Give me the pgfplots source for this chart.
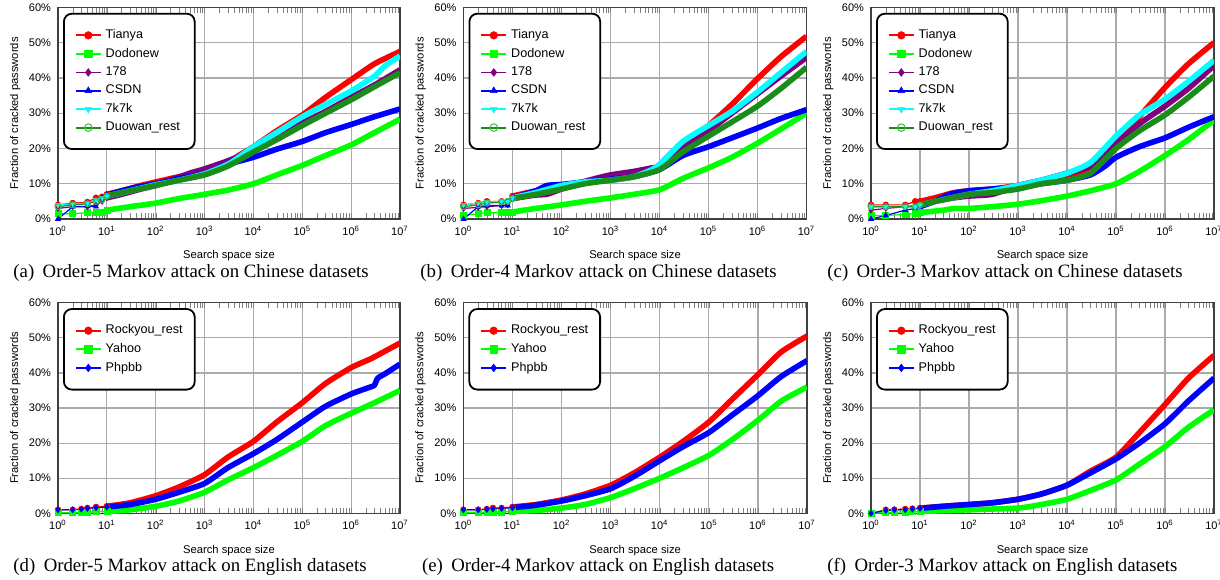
\documentclass[border=0pt]{standalone}
\usepackage{fontspec}
\setmainfont{Liberation Serif}
\setsansfont{Liberation Sans}
\usepackage{pgfplots}
\pgfplotsset{compat=1.18}
\definecolor{cPur}{RGB}{128,0,128}
\definecolor{cDuo}{RGB}{25,140,25}
\definecolor{cDuoM}{RGB}{60,190,60}
\definecolor{cCy}{RGB}{0,255,255}
\definecolor{cRd}{RGB}{255,0,0}
\definecolor{cGr}{RGB}{0,255,0}
\definecolor{cBl}{RGB}{0,0,255}
\pgfplotsset{
  legend image code/.code={\draw[mark repeat=2,mark phase=2,#1,line width=0.9pt,mark size=1.9pt] plot coordinates {(0pt,0pt) (6.25pt,0pt) (12.5pt,0pt)};},
}
\pgfplotsset{
 every axis/.append style={
  scale only axis, xmin=1, xmax=1e7, ymin=0, ymax=60,
  xtick={1,10,100,1000,10000,100000,1000000,10000000},
  xticklabels={10\textsuperscript{0},10\textsuperscript{1},10\textsuperscript{2},10\textsuperscript{3},10\textsuperscript{4},10\textsuperscript{5},10\textsuperscript{6},10\textsuperscript{7}},
  ytick={0,10,20,30,40,50,60},
  yticklabels={0\%,10\%,20\%,30\%,40\%,50\%,60\%},
  grid=major, major grid style={color=black!33, line width=0.6pt},
  axis line style={color=black!75, line width=0.6pt},
  major tick length=0pt,
  tick label style={font=\sffamily\fontsize{5.5}{6}\selectfont},
  label style={font=\sffamily\fontsize{5.6}{6.5}\selectfont},
  xlabel={Search space size}, ylabel={Fraction of cracked passwords},
  xlabel style={at={(axis description cs:0.5,0)}, anchor=center, yshift=-18.5pt},
  ylabel style={at={(axis description cs:-0.125,0.5)}, anchor=center},
  legend style={at={(axis description cs:0,1)}, anchor=north west, xshift=2.5pt, yshift=-2.7pt,
    draw=black, line width=0.9pt, rounded corners=4pt, fill=white,
    inner xsep=5.5pt, inner ysep=5.8pt, row sep=-0.75pt,
    font=\sffamily\fontsize{6.3}{7}\selectfont},
  legend cell align=left,
 },
 plotearly/.style={line width=0.6pt, mark size=1.5pt},
 plotlate/.style={line width=2.8pt, mark=none, forget plot, line join=round, smooth, tension=0.35},
 serTi/.style={color=cRd, mark=*, mark options={solid,line width=0.3pt}},
 serDo/.style={color=cGr, mark=square*, mark options={solid,line width=0.3pt}},
 serPu/.style={color=cPur, mark=diamond*, mark options={solid,line width=0.3pt}},
 serCS/.style={color=cBl, mark=triangle*, mark options={solid,line width=0.3pt}},
 ser7k/.style={color=cCy, mark=triangle*, mark options={solid,line width=0.3pt,rotate=180}},
 serDu/.style={color=cDuo, mark=o, mark options={solid,line width=0.5pt,draw=cDuoM}},
 serPh/.style={color=cBl, mark=diamond*, mark options={solid,line width=0.3pt}},
}
\newcommand{\LegE}[1]{\makebox[37pt][l]{#1}}
\begin{document}
\begin{tikzpicture}
\path[use as bounding box] (0,0) rectangle (610pt,289.5pt);
% ---------------- (a)
\begin{axis}[xmode=log, at={(29pt,180pt)}, anchor=south west, width=171pt, height=105.8pt]
\addplot[serTi,plotearly] coordinates {(1,4) (2,4.5) (4,4.8) (6,6) (8,6.3) (10,7)}; \addlegendentry{\LegE{Tianya}}
\addplot[serTi,plotlate] coordinates {(10,7) (20,8) (50,9.5) (100,10.5) (300,12) (1000,13.5) (3000,16) (5000,18) (1e4,20.5) (3e4,25) (1e5,29.5) (3e5,34.5) (1e6,39.5) (3e6,44) (1e7,47.5)};
\addplot[serDo,plotearly] coordinates {(1,1.5) (2,1.5) (4,1.8) (6,2) (8,2) (10,2.5)}; \addlegendentry{\LegE{Dodonew}}
\addplot[serDo,plotlate] coordinates {(10,2.5) (30,3.5) (100,4.5) (300,5.8) (1000,7) (3000,8.2) (1e4,10) (3e4,12.5) (1e5,15.2) (3e5,18) (1e6,21) (3e6,24.5) (1e7,28.3)};
\addplot[serPu,plotearly] coordinates {(1,3) (2,3.5) (4,3.5) (6,4) (8,5) (10,6)}; \addlegendentry{\LegE{178}}
\addplot[serPu,plotlate] coordinates {(10,6) (20,7) (50,8.5) (100,9.5) (200,11) (500,13) (1000,14.2) (3000,16.5) (1e4,19.5) (3e4,23) (1e5,27.2) (3e5,30.5) (1e6,34.5) (3e6,38) (1e7,42.3)};
\addplot[serCS,plotearly] coordinates {(1,0) (2,3.5) (4,3.6) (6,3.5) (8,6) (10,6.8)}; \addlegendentry{\LegE{CSDN}}
\addplot[serCS,plotlate] coordinates {(10,6.8) (20,8) (40,9) (100,10) (300,11.5) (1000,12.8) (3000,15.5) (1e4,17.5) (3e4,19.8) (1e5,22) (3e5,24.5) (1e6,26.8) (3e6,29) (1e7,31.2)};
\addplot[ser7k,plotearly] coordinates {(1,4) (2,4.3) (4,4.5) (6,5.5) (8,6) (10,6.5)}; \addlegendentry{\LegE{7k7k}}
\addplot[ser7k,plotlate] coordinates {(10,6.5) (30,8) (100,9.7) (300,11) (1000,12.8) (3000,15.5) (5000,17.5) (1e4,20.5) (3e4,24.5) (1e5,29) (3e5,32.5) (1e6,36.3) (3e6,40.5) (5e6,43.5) (1e7,46.2)};
\addplot[serDu,plotearly] coordinates {(1,3.5) (2,4) (4,4.3) (6,5) (8,5.5) (10,6.5)}; \addlegendentry{\LegE{Duowan\_rest}}
\addplot[serDu,plotlate] coordinates {(10,6.5) (30,8) (100,9.5) (300,11) (1000,12.5) (3000,15) (1e4,19) (3e4,22.5) (1e5,26.5) (3e5,30) (1e6,33.8) (3e6,37.5) (1e7,41.5)};
\end{axis}
% ---------------- (b)
\begin{axis}[xmode=log, at={(231.75pt,180pt)}, anchor=south west, width=171.5pt, height=105.8pt]
\addplot[serTi,plotearly] coordinates {(1,4) (2,4.5) (3,5) (6,5) (8,5) (10,6.5)}; \addlegendentry{\LegE{Tianya}}
\addplot[serTi,plotlate] coordinates {(10,6.5) (30,8) (100,9.5) (300,10.5) (1000,11) (3000,12) (1e4,14.5) (3e4,21) (1e5,26.5) (3e5,32.5) (1e6,39.8) (3e6,46) (1e7,51.8)};
\addplot[serDo,plotearly] coordinates {(1,1) (2,1.5) (3,1.8) (6,1.8) (8,2) (10,2)}; \addlegendentry{\LegE{Dodonew}}
\addplot[serDo,plotlate] coordinates {(10,2) (30,3) (100,4) (300,5) (1000,6) (3000,7) (1e4,8.3) (3e4,11.5) (1e5,14.5) (3e5,17.5) (1e6,21.5) (3e6,25.5) (1e7,30)};
\addplot[serPu,plotearly] coordinates {(1,3) (2,3.3) (3,3.5) (6,3.8) (8,4) (10,5.8)}; \addlegendentry{\LegE{178}}
\addplot[serPu,plotlate] coordinates {(10,5.8) (30,6.8) (50,7) (100,8.5) (200,10) (500,11.5) (1000,12.5) (3000,13.5) (7000,14.5) (1e4,15) (3e4,20) (1e5,25) (3e5,30) (1e6,35.5) (3e6,40.5) (1e7,45.8)};
\addplot[serCS,plotearly] coordinates {(1,0) (2,3.5) (3,3.8) (6,3.8) (8,3.8) (10,6)}; \addlegendentry{\LegE{CSDN}}
\addplot[serCS,plotlate] coordinates {(10,6) (30,8) (50,9.5) (100,9.8) (300,10.5) (1000,11.3) (3000,12) (1e4,14) (3e4,18) (1e5,20.5) (3e5,23) (1e6,25.8) (3e6,28.5) (1e7,31)};
\addplot[ser7k,plotearly] coordinates {(1,4) (2,4.5) (3,4.8) (6,5) (8,5) (10,6)}; \addlegendentry{\LegE{7k7k}}
\addplot[ser7k,plotlate] coordinates {(10,6) (30,7.5) (100,9.5) (300,10.5) (1000,11) (3000,12) (7000,14) (1e4,15.5) (3e4,22) (1e5,26.5) (3e5,30.5) (1e6,36) (3e6,41.5) (1e7,47.5)};
\addplot[serDu,plotearly] coordinates {(1,3.5) (2,4) (3,4.5) (6,4.8) (8,5) (10,5.8)}; \addlegendentry{\LegE{Duowan\_rest}}
\addplot[serDu,plotlate] coordinates {(10,5.8) (30,7) (100,8.5) (300,10) (1000,11) (3000,12) (1e4,14) (3e4,19) (1e5,23.5) (3e5,27.5) (1e6,32) (3e6,37) (1e7,43)};
\end{axis}
% ---------------- (c)
\begin{axis}[xmode=log, at={(435.5pt,180pt)}, anchor=south west, width=171.5pt, height=105.8pt]
\addplot[serTi,plotearly] coordinates {(1,4) (2,4) (5,4) (8,5) (10,5)}; \addlegendentry{\LegE{Tianya}}
\addplot[serTi,plotlate] coordinates {(10,5) (20,6) (50,7.5) (100,8) (300,8.5) (1000,9.5) (3000,10.5) (1e4,11.5) (3e4,13.5) (6e4,17) (1e5,21) (3e5,29) (1e6,37.3) (3e6,44) (1e7,50)};
\addplot[serDo,plotearly] coordinates {(1,1) (2,1) (5,1.3) (8,1.5) (10,1.8)}; \addlegendentry{\LegE{Dodonew}}
\addplot[serDo,plotlate] coordinates {(10,1.8) (30,2.5) (50,3) (100,3) (300,3.5) (1000,4.2) (3000,5.2) (1e4,6.5) (3e4,8) (1e5,10) (3e5,13.5) (1e6,18) (3e6,22.5) (1e7,28)};
\addplot[serPu,plotearly] coordinates {(1,2.5) (2,3) (5,3.5) (8,3.8) (10,4)}; \addlegendentry{\LegE{178}}
\addplot[serPu,plotlate] coordinates {(10,4) (20,5) (50,6) (100,6.5) (300,7) (1000,9.5) (3000,11) (1e4,13) (3e4,15) (1e5,21.5) (3e5,27) (1e6,32) (3e6,37) (1e7,43.5)};
\addplot[serCS,plotearly] coordinates {(1,0) (2,1) (5,2.5) (8,3) (10,3.5)}; \addlegendentry{\LegE{CSDN}}
\addplot[serCS,plotlate] coordinates {(10,3.5) (20,5) (40,7) (100,8) (300,8.5) (1000,9) (3000,10) (1e4,11) (3e4,12.5) (6e4,15) (1e5,17.5) (3e5,20.5) (1e6,23) (3e6,26) (1e7,29)};
\addplot[ser7k,plotearly] coordinates {(1,3.5) (2,3.5) (5,3.5) (8,3.5) (10,4)}; \addlegendentry{\LegE{7k7k}}
\addplot[ser7k,plotlate] coordinates {(10,4) (30,5.5) (100,7) (300,8) (1000,9.5) (3000,11) (1e4,13) (3e4,16) (1e5,23.5) (3e5,29.5) (1e6,34) (3e6,39) (1e7,45)};
\addplot[serDu,plotearly] coordinates {(1,3.5) (2,3.5) (5,3.5) (8,3.5) (10,4)}; \addlegendentry{\LegE{Duowan\_rest}}
\addplot[serDu,plotlate] coordinates {(10,4) (30,5.5) (100,7) (300,7.5) (1000,8.5) (3000,10) (1e4,11) (3e4,13) (1e5,20) (3e5,25) (1e6,29.5) (3e6,34.5) (1e7,40.5)};
\end{axis}
% ---------------- (d)
\begin{axis}[xmode=log, at={(29pt,32.85pt)}, anchor=south west, width=171pt, height=105.3pt]
\addplot[serTi,plotearly] coordinates {(1,1) (2,1) (3,1.2) (4,1.5) (6,1.8) (10,2)}; \addlegendentry{\LegE{Rockyou\_rest}}
\addplot[serTi,plotlate] coordinates {(10,2) (30,3) (100,5) (300,7.5) (1000,11) (3000,16) (1e4,20.5) (3e4,26) (1e5,31.5) (3e5,37) (1e6,41.5) (2.5e6,44) (4e6,45.5) (1e7,48.5)};
\addplot[serDo,plotearly] coordinates {(1,0.2) (2,0.2) (3,0.3) (4,0.3) (6,0.5) (10,0.5)}; \addlegendentry{\LegE{Yahoo}}
\addplot[serDo,plotlate] coordinates {(10,0.5) (30,1) (100,2) (300,3.5) (1000,6) (3000,9.5) (1e4,13) (3e4,16.5) (1e5,20.5) (3e5,25) (1e6,28.5) (3e6,31.5) (1e7,35)};
\addplot[serPh,plotearly] coordinates {(1,1) (2,1) (3,1.2) (4,1.4) (6,1.6) (10,1.8)}; \addlegendentry{\LegE{Phpbb}}
\addplot[serPh,plotlate] coordinates {(10,1.8) (30,2.5) (100,4) (300,6) (1000,8.5) (3000,13) (1e4,17) (3e4,21) (1e5,26) (3e5,30.5) (1e6,34) (2.5e6,36) (3e6,36.5) (3.5e6,38.5) (5e6,39.8) (1e7,42.5)};
\end{axis}
% ---------------- (e)
\begin{axis}[xmode=log, at={(231.7pt,32.85pt)}, anchor=south west, width=171.8pt, height=105.3pt]
\addplot[serTi,plotearly] coordinates {(1,1) (2,1) (3,1.2) (4,1.5) (6,1.5) (10,1.8)}; \addlegendentry{\LegE{Rockyou\_rest}}
\addplot[serTi,plotlate] coordinates {(10,1.8) (30,2.5) (100,3.8) (300,5.5) (1000,8) (3000,11.5) (1e4,16) (3e4,20.5) (1e5,26) (3e5,32.5) (1e6,39.5) (3e6,46) (1e7,50.5)};
\addplot[serDo,plotearly] coordinates {(1,0.3) (2,0.3) (3,0.3) (4,0.4) (6,0.4) (10,0.5)}; \addlegendentry{\LegE{Yahoo}}
\addplot[serDo,plotlate] coordinates {(10,0.5) (30,0.8) (100,1.5) (300,2.5) (1000,4.5) (3000,7) (1e4,10) (3e4,13) (1e5,16.5) (3e5,21) (1e6,26.5) (3e6,32) (1e7,36)};
\addplot[serPh,plotearly] coordinates {(1,1) (2,1) (3,1.1) (4,1.3) (6,1.4) (10,1.6)}; \addlegendentry{\LegE{Phpbb}}
\addplot[serPh,plotlate] coordinates {(10,1.6) (30,2.3) (100,3.5) (300,5) (1000,7) (3000,10.5) (1e4,15) (3e4,19) (1e5,23) (3e5,28) (1e6,33.5) (3e6,39) (1e7,43.5)};
\end{axis}
% ---------------- (f)
\begin{axis}[xmode=log, at={(435.5pt,32.85pt)}, anchor=south west, width=171.5pt, height=105.3pt]
\addplot[serTi,plotearly] coordinates {(1,0) (2,1) (3,1) (5,1.2) (7,1.3) (10,1.5)}; \addlegendentry{\LegE{Rockyou\_rest}}
\addplot[serTi,plotlate] coordinates {(10,1.5) (30,2) (100,2.5) (300,3) (1000,4) (3000,5.5) (1e4,8) (3e4,12) (1e5,16) (3e5,23) (1e6,31) (3e6,38.5) (1e7,45)};
\addplot[serDo,plotearly] coordinates {(1,0) (2,0.2) (3,0.3) (5,0.4) (7,0.5) (10,0.5)}; \addlegendentry{\LegE{Yahoo}}
\addplot[serDo,plotlate] coordinates {(10,0.5) (100,1) (1000,1.5) (3000,2.5) (1e4,4) (3e4,6.5) (1e5,9.5) (3e5,14) (1e6,19) (3e6,24.5) (1e7,29.5)};
\addplot[serPh,plotearly] coordinates {(1,0) (2,0.8) (3,1) (5,1) (7,1.2) (10,1.4)}; \addlegendentry{\LegE{Phpbb}}
\addplot[serPh,plotlate] coordinates {(10,1.4) (30,2) (100,2.5) (300,3) (1000,4) (3000,5.5) (1e4,8) (3e4,11.5) (1e5,15.5) (3e5,20) (1e6,25.5) (3e6,32) (1e7,38.5)};
\end{axis}
% captions
\begin{scope}[every node/.style={font=\fontsize{9.4}{11}\selectfont, inner sep=0pt, anchor=base west}]
\node at (6.5pt,150.5pt) {(a)\hspace{0.45em}Order-5 Markov attack on Chinese datasets};
\node at (210pt,150.5pt) {(b)\hspace{0.45em}Order-4 Markov attack on Chinese datasets};
\node at (413.5pt,150.5pt) {(c)\hspace{0.45em}Order-3 Markov attack on Chinese datasets};
\node at (6.5pt,3.6pt) {(d)\hspace{0.45em}Order-5 Markov attack on English datasets};
\node at (210.8pt,3.6pt) {(e)\hspace{0.45em}Order-4 Markov attack on English datasets};
\node at (413.5pt,3.6pt) {(f)\hspace{0.45em}Order-3 Markov attack on English datasets};
\end{scope}
\end{tikzpicture}
\end{document}
